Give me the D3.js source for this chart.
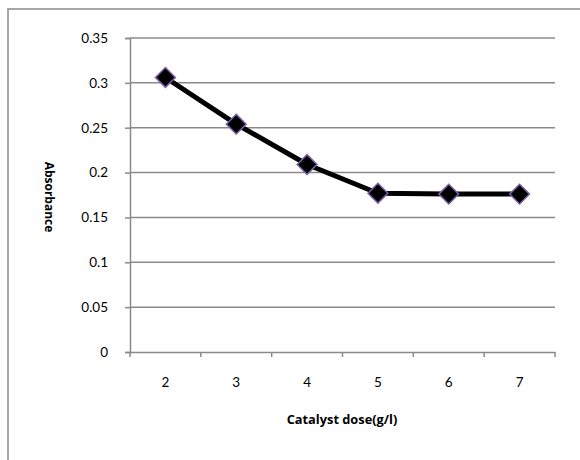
<!DOCTYPE html>
<html>
<head>
<meta charset="utf-8">
<script src="https://cdn.jsdelivr.net/npm/d3@7"></script>
<style>
  body { margin: 0; background: #fff; }
  text { font-family: Lato, "Open Sans", sans-serif; }
</style>
</head>
<body>
<svg class="svg" width="580" height="460"></svg>
<script>
// données
const doses = ["2", "3", "4", "5", "6", "7"];
const absorbance = [0.306, 0.254, 0.209, 0.177, 0.176, 0.176];
const yTicks = [0, 0.05, 0.1, 0.15, 0.2, 0.25, 0.3, 0.35];

const svg = d3.select(".svg");

// cadre du graphique
svg.append("rect").attr("x", 8).attr("y", 9).attr("width", 600).attr("height", 500)
  .attr("fill", "none").attr("stroke", "#8a8a8a").attr("stroke-width", 1.5);

const pLeft = 130, pRight = 555, pTop = 38, pBottom = 352;

const x = d3.scaleBand().domain(doses).range([pLeft, pRight]);
const y = d3.scaleLinear().domain([0, 0.35]).range([pBottom, pTop]);

// grille horizontale
svg.append("g").selectAll("line").data(yTicks.slice(1)).enter().append("line")
  .attr("x1", pLeft).attr("x2", pRight)
  .attr("y1", d => y(d)).attr("y2", d => y(d))
  .attr("stroke", "#8a8a8a").attr("stroke-width", 1.5);

// axe y
const yAxis = svg.append("g").attr("transform", `translate(${pLeft},0)`)
  .call(d3.axisLeft(y).tickValues(yTicks).tickSize(5).tickPadding(17).tickFormat(d => String(+d.toFixed(2))));
yAxis.select(".domain").attr("stroke", "#8a8a8a").attr("stroke-width", 1.5);
yAxis.selectAll(".tick line").attr("stroke", "#8a8a8a").attr("stroke-width", 1.5);
yAxis.selectAll("text").attr("font-size", 13.5).attr("fill", "#000");

// axe x
const xAxis = svg.append("g").attr("transform", `translate(0,${pBottom})`)
  .call(d3.axisBottom(x).tickSize(0).tickPadding(25));
xAxis.select(".domain").attr("stroke", "#8a8a8a").attr("stroke-width", 1.5);
xAxis.selectAll("text").attr("font-size", 13.5).attr("fill", "#000");
// petites graduations entre catégories
svg.append("g").selectAll("line").data(d3.range(doses.length + 1)).enter().append("line")
  .attr("x1", i => pLeft + i * x.step()).attr("x2", i => pLeft + i * x.step())
  .attr("y1", pBottom).attr("y2", pBottom + 5)
  .attr("stroke", "#8a8a8a").attr("stroke-width", 1.5);

// titres des axes
svg.append("text").text("Absorbance")
  .attr("transform", `translate(45,${(pTop + pBottom) / 2 + 2}) rotate(90)`)
  .attr("text-anchor", "middle").attr("font-size", 12).attr("font-weight", "bold")
  .style("font-family", "'Open Sans', sans-serif");
svg.append("text").text("Catalyst dose(g/l)")
  .attr("x", 342).attr("y", 424)
  .attr("text-anchor", "middle").attr("font-size", 12.8).attr("font-weight", "bold")
  .style("font-family", "'Open Sans', sans-serif");

// courbe
const cx = (d, i) => x(doses[i]) + x.bandwidth() / 2;
svg.append("path").datum(absorbance)
  .attr("d", d3.line().x(cx).y(d => y(d)))
  .attr("fill", "none").attr("stroke", "#000").attr("stroke-width", 5)
  .attr("stroke-linejoin", "round");

// marqueurs losanges
svg.append("g").selectAll("path").data(absorbance).enter().append("path")
  .attr("d", d3.symbol().type(d3.symbolDiamond2).size(250))
  .attr("transform", (d, i) => `translate(${cx(d, i)},${y(d)})`)
  .attr("fill", "#000").attr("stroke", "#7a5fa8").attr("stroke-width", 1.5);
</script>
</body>
</html>
